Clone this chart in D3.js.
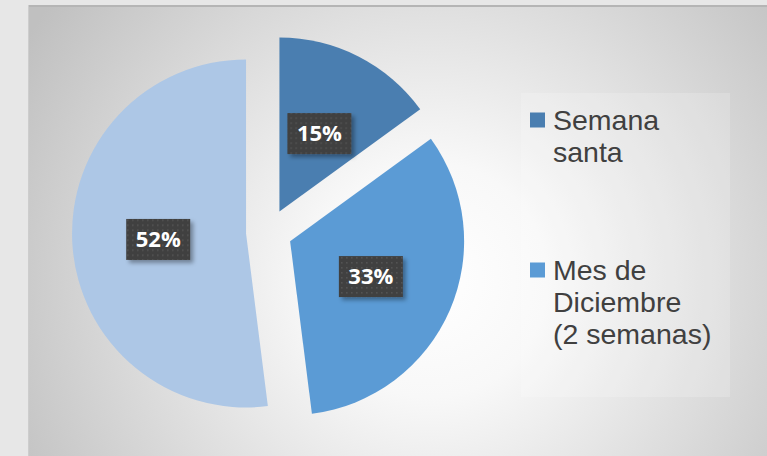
<!DOCTYPE html>
<html><head><meta charset="utf-8">
<script src="https://cdn.jsdelivr.net/npm/d3@7"></script>
<style>html,body{margin:0;padding:0;background:#e7e7e7;overflow:hidden}</style>
</head><body>
<script>
const categories = ["Semana santa", "Mes de Diciembre (2 semanas)", "Resto del año"];
const values = [15, 33, 52];
const labels = ["15%", "33%", "52%"];
const colors = ["#4a7eb0", "#5b9bd5", "#adc7e6"];
const legendLines = [["Semana", "santa"], ["Mes de", "Diciembre", "(2 semanas)"]];

const W = 767, H = 456;
const svg = d3.select("body").append("svg").attr("width", W).attr("height", H);
const defs = svg.append("defs");
const rg = defs.append("radialGradient").attr("id", "bg")
  .attr("gradientUnits", "userSpaceOnUse").attr("cx", 430).attr("cy", 280).attr("r", 470);
rg.append("stop").attr("offset", "0").attr("stop-color", "#ffffff");
rg.append("stop").attr("offset", "0.25").attr("stop-color", "#f8f8f8");
rg.append("stop").attr("offset", "1").attr("stop-color", "#c0c0c0");
const pat = defs.append("pattern").attr("id", "dots").attr("patternUnits", "userSpaceOnUse")
  .attr("width", 5).attr("height", 5);
pat.append("rect").attr("width", 5).attr("height", 5).attr("fill", "#3f3f3f");
pat.append("rect").attr("x", 1).attr("y", 1).attr("width", 1.5).attr("height", 1.5).attr("fill", "#575757");
const sh = defs.append("filter").attr("id", "sh").attr("x", "-20%").attr("y", "-20%").attr("width", "150%").attr("height", "160%");
sh.append("feDropShadow").attr("dx", 3).attr("dy", 3).attr("stdDeviation", 2).attr("flood-color", "#000").attr("flood-opacity", 0.35);

svg.append("rect").attr("x", 28).attr("y", 5).attr("width", W - 28).attr("height", H - 5).attr("fill", "url(#bg)");
svg.append("line").attr("x1", 28).attr("x2", W).attr("y1", 6).attr("y2", 6).attr("stroke", "#b5b5b5").attr("stroke-width", 2);
svg.append("line").attr("x1", 28.5).attr("x2", 28.5).attr("y1", 5).attr("y2", H).attr("stroke", "#cdcdcd").attr("stroke-width", 1);

// legend box
svg.append("rect").attr("x", 521).attr("y", 93).attr("width", 209).attr("height", 304)
  .attr("fill", "#ffffff").attr("fill-opacity", 0.18);

const cx = 269, cy = 232, R = 174, explode = 23;
const pie = d3.pie().sort(null).value(d => d);
const arcs = pie(values);
const arc = d3.arc().innerRadius(0).outerRadius(R);
const labelArc = d3.arc().innerRadius(88).outerRadius(88);
const g = svg.append("g").attr("transform", `translate(${cx},${cy})`);

const sl = g.selectAll("g.s").data(arcs).enter().append("g")
  .attr("transform", d => {
    const m = (d.startAngle + d.endAngle) / 2;
    return `translate(${explode * Math.sin(m)},${-explode * Math.cos(m)})`;
  });
sl.append("path").attr("d", arc).attr("fill", (d, i) => colors[i]);

sl.each(function(d, i) {
  const [lx, ly] = labelArc.centroid(d);
  const s = d3.select(this);
  s.append("rect").attr("x", lx - 32).attr("y", ly - 20).attr("width", 64).attr("height", 41)
    .attr("fill", "url(#dots)").attr("filter", "url(#sh)");
  s.append("text").attr("x", lx).attr("y", ly + 8).attr("text-anchor", "middle")
    .attr("font-family", "Open Sans, sans-serif").attr("font-weight", "bold").attr("font-size", 22)
    .attr("fill", "#ffffff").text(labels[i]);
});

// legend
const legY = [120, 270];
legendLines.forEach((lines, i) => {
  svg.append("rect").attr("x", 530).attr("y", legY[i] - 7.5).attr("width", 15).attr("height", 15).attr("fill", colors[i]);
  const t = svg.append("text").attr("x", 553).attr("y", legY[i] + 10)
    .attr("font-family", "Liberation Sans, Arial, sans-serif").attr("font-size", 28.5).attr("fill", "#404040");
  lines.forEach((ln, j) => t.append("tspan").attr("x", 553).attr("dy", j === 0 ? 0 : 32).text(ln));
});
</script>
</body></html>
